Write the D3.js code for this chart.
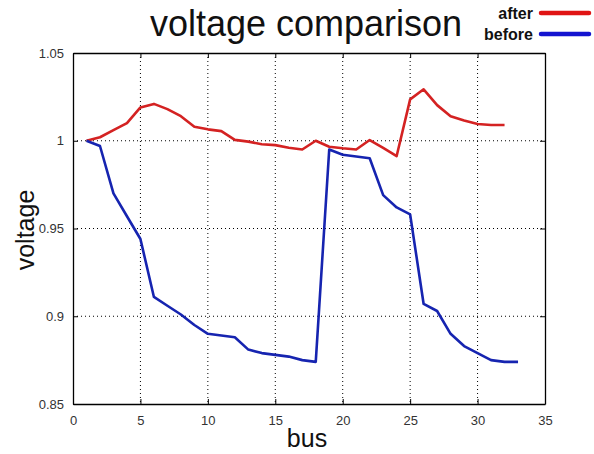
<!DOCTYPE html>
<html lang="en">
<head>
	<meta charset="UTF-8">
	<title>voltage comparison</title>
	<script src="https://d3js.org/d3.v7.min.js"></script>
	<style>
		* { margin: 0px; padding: 0px; }
		body { background: #fff; }
		text { font-family: "Liberation Sans", Arial, sans-serif; }
	</style>
</head>
<body>
	<svg width="594" height="454"></svg>
	<script>
		// voltage per bus
		var before = [1.000, 0.997, 0.970, 0.957, 0.944, 0.911, 0.906, 0.901, 0.895, 0.890,
			0.889, 0.888, 0.881, 0.879, 0.878, 0.877, 0.875, 0.874, 0.995, 0.992,
			0.991, 0.990, 0.969, 0.962, 0.958, 0.907, 0.903, 0.890, 0.883, 0.879,
			0.875, 0.874, 0.874];
		var after = [1.000, 1.002, 1.006, 1.010, 1.019, 1.021, 1.018, 1.014, 1.008, 1.0065,
			1.0055, 1.0005, 0.9995, 0.998, 0.9975, 0.996, 0.995, 1.000, 0.9966, 0.9957,
			0.995, 1.0004, 0.996, 0.9913, 1.0236, 1.0293, 1.0203, 1.014, 1.0115, 1.0095,
			1.009, 1.009];
		var xTicks = [0, 5, 10, 15, 20, 25, 30, 35];
		var yTicks = [0.85, 0.9, 0.95, 1, 1.05];

		var svg = d3.select("svg");
		var margin = { top: 53, right: 49, bottom: 50, left: 73 };
		var width = +svg.attr("width") - margin.left - margin.right;
		var height = +svg.attr("height") - margin.top - margin.bottom;

		var x = d3.scaleLinear().domain([0, 35]).range([0, width]);
		var y = d3.scaleLinear().domain([0.85, 1.05]).range([height, 0]);

		var g = svg.append("g").attr("transform", "translate(" + margin.left + "," + margin.top + ")");

		// dotted grid
		g.append("g").selectAll("line")
			.data(xTicks.slice(1, -1))
			.enter().append("line")
			.attr("x1", d => x(d)).attr("x2", d => x(d))
			.attr("y1", 0).attr("y2", height)
			.attr("stroke", "#000").attr("stroke-width", 1)
			.attr("stroke-dasharray", "1,3");
		g.append("g").selectAll("line")
			.data(yTicks.slice(1, -1))
			.enter().append("line")
			.attr("y1", d => y(d)).attr("y2", d => y(d))
			.attr("x1", 0).attr("x2", width)
			.attr("stroke", "#000").attr("stroke-width", 1)
			.attr("stroke-dasharray", "1,3");

		// axes, ticks pointing in like matlab
		var xAxis = g.append("g").attr("transform", "translate(0," + height + ")")
			.call(d3.axisBottom(x).tickValues(xTicks).tickSizeInner(-5).tickSizeOuter(0).tickPadding(12));
		var xTop = g.append("g")
			.call(d3.axisTop(x).tickValues(xTicks).tickSizeInner(-5).tickSizeOuter(0).tickFormat(""));
		var yAxis = g.append("g")
			.call(d3.axisLeft(y).tickValues(yTicks).tickSizeInner(-5).tickSizeOuter(0).tickPadding(9).tickFormat(d3.format("")));
		var yRight = g.append("g").attr("transform", "translate(" + width + ",0)")
			.call(d3.axisRight(y).tickValues(yTicks).tickSizeInner(-5).tickSizeOuter(0).tickFormat(""));

		[xAxis, xTop, yAxis, yRight].forEach(function (a) {
			a.select(".domain").attr("stroke", "#000").attr("stroke-width", 1.3);
			a.selectAll(".tick line").attr("stroke", "#000");
			a.selectAll("text").attr("font-size", 13).attr("fill", "#333")
				.style("font-family", "'Liberation Sans', Arial, sans-serif");
		});

		var line = d3.line()
			.x((d, i) => x(i + 1))
			.y(d => y(d));

		g.append("path").datum(after)
			.attr("d", line)
			.attr("fill", "none").attr("stroke", "#d42222")
			.attr("stroke-width", 2.6).attr("stroke-linejoin", "round");
		g.append("path").datum(before)
			.attr("d", line)
			.attr("fill", "none").attr("stroke", "#1624b0")
			.attr("stroke-width", 2.6).attr("stroke-linejoin", "round");

		// title and labels
		svg.append("text")
			.attr("x", 306).attr("y", 36)
			.attr("text-anchor", "middle")
			.attr("font-size", 36).attr("fill", "#111")
			.text("voltage comparison");
		svg.append("text")
			.attr("x", 307).attr("y", 447)
			.attr("text-anchor", "middle")
			.attr("font-size", 25).attr("fill", "#111")
			.text("bus");
		svg.append("text")
			.attr("transform", "translate(34,230) rotate(-90)")
			.attr("text-anchor", "middle")
			.attr("font-size", 25).attr("fill", "#111")
			.text("voltage");

		// legend
		var legend = [
			{ name: "after", color: "#e01414", y: 13 },
			{ name: "before", color: "#1414d0", y: 34 }
		];
		var lg = svg.append("g").selectAll("g").data(legend).enter().append("g");
		lg.append("text")
			.attr("x", 533).attr("y", d => d.y + 6)
			.attr("text-anchor", "end")
			.attr("font-size", 16).attr("font-weight", "bold").attr("fill", "#111")
			.text(d => d.name);
		lg.append("line")
			.attr("x1", 541).attr("x2", 589)
			.attr("y1", d => d.y).attr("y2", d => d.y)
			.attr("stroke", d => d.color).attr("stroke-width", 4.5)
			.attr("stroke-linecap", "round");
	</script>
</body>
</html>
